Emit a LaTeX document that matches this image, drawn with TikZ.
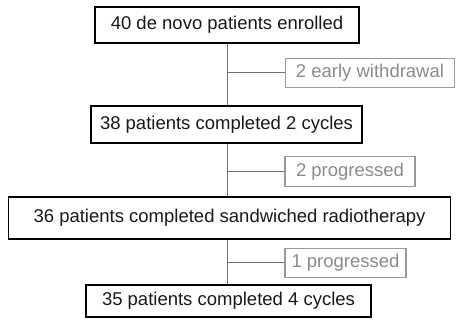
\documentclass[tikz,border=0pt]{standalone}
\usepackage{fontspec}
\setmainfont{Liberation Sans}
\definecolor{greytxt}{HTML}{8A8A8A}
\definecolor{greybox}{HTML}{9A9A9A}
\definecolor{linegrey}{HTML}{707070}
\begin{document}
\begin{tikzpicture}[x=1pt,y=1pt,
  mainbox/.style={draw=black,line width=1.6pt,inner sep=0pt,font=\fontsize{18.5}{20}\selectfont,text=black!90},
  sidebox/.style={draw=greybox,line width=1.1pt,inner sep=0pt,font=\fontsize{18.5}{20}\selectfont,text=greytxt},
  conn/.style={draw=linegrey,line width=1pt}]
\useasboundingbox (0,0) rectangle (456,320);
\node[mainbox,minimum width=264,minimum height=36] (b1) at (227,295) {40 de novo patients enrolled};
\node[mainbox,minimum width=271,minimum height=37] (b2) at (226.5,195.5) {38 patients completed 2 cycles};
\node[mainbox,minimum width=442,minimum height=42] (b3) at (229.5,102) {36 patients completed sandwiched radiotherapy};
\node[mainbox,minimum width=285,minimum height=32] (b4) at (228.5,19) {35 patients completed 4 cycles};
\node[sidebox,minimum width=169,minimum height=29] (g1) at (370,247) {2 early withdrawal};
\node[sidebox,minimum width=130,minimum height=30] (g2) at (350,148.5) {2 progressed};
\node[sidebox,minimum width=121,minimum height=29] (g3) at (345.5,57) {1 progressed};
\coordinate (s1) at (227,247);
\coordinate (s2) at (227,148.5);
\coordinate (s3) at (227,57);
\draw[conn] (227,0|-b1.south) -- (227,0|-b2.north);
\draw[conn] (227,0|-b2.south) -- (227,0|-b3.north);
\draw[conn] (227,0|-b3.south) -- (227,0|-b4.north);
\draw[conn] (s1) -- (g1.west);
\draw[conn] (s2) -- (g2.west);
\draw[conn] (s3) -- (g3.west);
\end{tikzpicture}
\end{document}
